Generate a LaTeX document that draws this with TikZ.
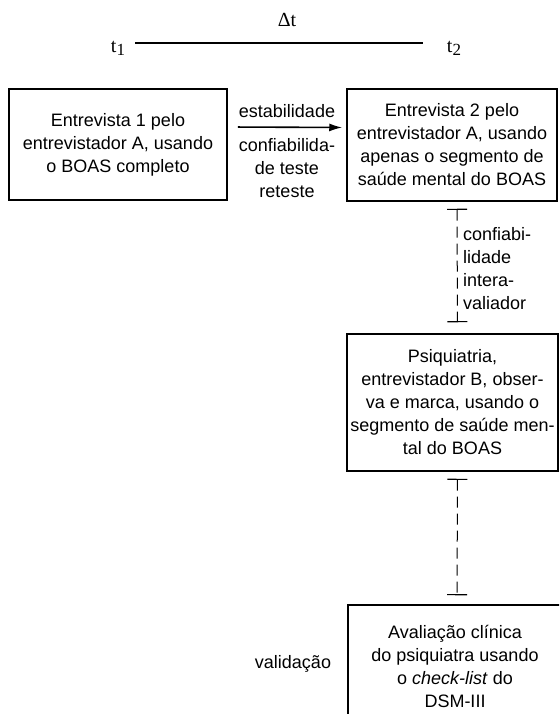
\documentclass[tikz,border=0pt]{standalone}
\usepackage{fontspec}
\setmainfont{Liberation Sans}
\newfontfamily\timesfont{Liberation Serif}
\usetikzlibrary{arrows.meta}

\begin{document}
\begin{tikzpicture}[x=1pt,y=-1pt,
	caixa/.style={draw,line width=1.5pt,align=center,inner sep=1pt,font=\fontsize{18}{23}\selectfont},
	rotulo/.style={align=center,inner sep=1pt,font=\fontsize{18}{23}\selectfont},
	tempo/.style={inner sep=3pt,font=\fontsize{20}{23}\timesfont},
	tracejado/.style={line width=1pt,dash pattern=on 11pt off 6pt,{Bar[width=20pt,line width=1.2pt]}-{Bar[width=20pt,line width=1.2pt]}}]
	\useasboundingbox (0,0) rectangle (559,714);
	\clip (0,0) rectangle (559,714);
	% eixo do tempo
	\node[tempo,anchor=base] (deltat) at (287,27) {Δt};
	\node[tempo,anchor=base] (t1) at (118,53) {t\raisebox{-3pt}{\fontsize{17}{17}\selectfont 1}};
	\node[tempo,anchor=base] (t2) at (454,53) {t\raisebox{-3pt}{\fontsize{17}{17}\selectfont 2}};
	\draw[line width=1.3pt,shorten <=7pt,shorten >=21pt] ([yshift=10pt]t1.base east) -- ([yshift=10pt]t2.base west);
	% caixas
	\node[caixa,minimum width=218,minimum height=111] (entrevista1) at (118,144.5) {Entrevista 1 pelo\\entrevistador A, usando\\o BOAS completo};
	\node[caixa,minimum width=210,minimum height=112] (entrevista2) at (452,145) {Entrevista 2 pelo\\entrevistador A, usando\\apenas o segmento de\\saúde mental do BOAS};
	\node[caixa,minimum width=211,minimum height=137] (psiquiatria) at (452.5,402.5) {Psiquiatria,\\entrevistador B, obser-\\va e marca, usando o\\segmento de saúde men-\\tal do BOAS};
	\node[caixa,minimum width=214,minimum height=122] (avaliacao) at (455,666) {Avaliação clínica\\do psiquiatra usando\\o \textit{check-list} do\\DSM-III};
	% ligacoes
	\draw[line width=1.6pt,-{Latex[length=13pt,width=8pt]},shorten <=10pt,shorten >=4pt] ([yshift=17.5pt]entrevista1.east) -- ([yshift=17.5pt]entrevista2.west);
	\node[rotulo] (estabilidade) at (287,111) {estabilidade};
	\node[rotulo] (testereteste) at (287,168) {confiabilida-\\de teste\\reteste};
	\draw[tracejado,shorten <=7pt,shorten >=11pt] ([xshift=5pt]entrevista2.south) -- ([xshift=5pt]psiquiatria.north);
	\node[rotulo,align=left,anchor=west] (interavaliador) at (462,268.5) {confiabi-\\lidade\\intera-\\valiador};
	\draw[tracejado,shorten <=7pt,shorten >=9pt] ([xshift=5pt]psiquiatria.south) -- ([xshift=2pt]avaliacao.north);
	\node[rotulo] (validacao) at (293,664) {validação};
\end{tikzpicture}
\end{document}
